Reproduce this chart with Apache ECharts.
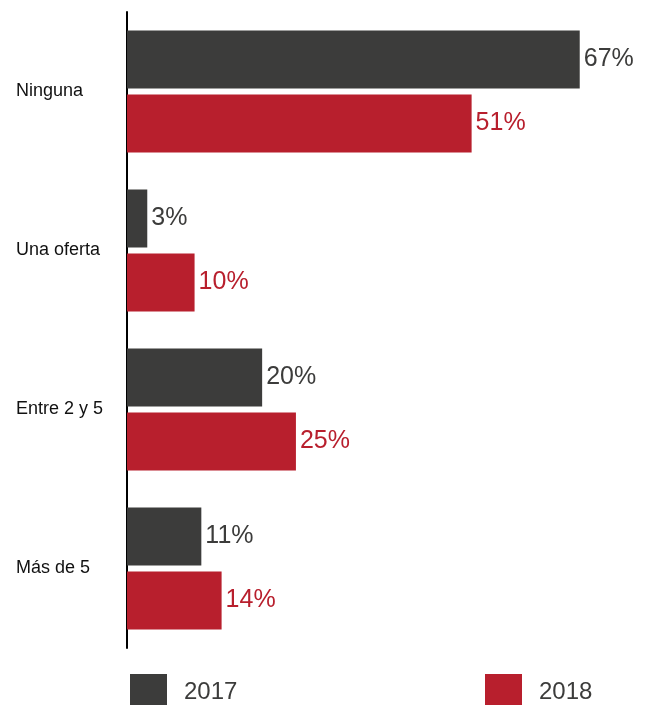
<!DOCTYPE html>
<html>
<head>
<meta charset="utf-8">
<script src="https://cdn.jsdelivr.net/npm/echarts@6/dist/echarts.min.js"></script>
<style>
  html, body { margin: 0; padding: 0; background: #fff; overflow: hidden; }
  #chart { width: 647px; height: 705px; }
</style>
</head>
<body>
<div id="chart"></div>
<script>
// Número de ofertas recibidas, comparación 2017 / 2018 (%)
const categories = ['Ninguna', 'Una oferta', 'Entre 2 y 5', 'Más de 5'];
const seriesNames = ['2017', '2018'];
const values2017 = [67, 3, 20, 11];
const values2018 = [51, 10, 25, 14];

const DARK = '#3c3c3b';
const RED = '#b81f2d';
const FONT = '"Liberation Sans", Arial, Helvetica, sans-serif';

const chart = echarts.init(document.getElementById('chart'), null, { renderer: 'canvas' });

function barSeries(name, data, color) {
  return {
    name: name,
    type: 'bar',
    data: data,
    barWidth: 58,
    barGap: '10%',
    itemStyle: { color: color },
    label: {
      show: true,
      position: 'right',
      distance: 4,
      formatter: '{c}%',
      color: color,
      fontFamily: FONT,
      fontSize: 25
    }
  };
}

const legendBase = {
  top: 674,
  padding: 0,
  itemWidth: 37,
  itemHeight: 37,
  icon: 'rect',
  selectedMode: false,
  textStyle: { fontFamily: FONT, fontSize: 24, color: DARK, padding: [0, 0, 0, 12] }
};

chart.setOption({
  animation: false,
  textStyle: { fontFamily: FONT },
  grid: { left: 127, top: 12, bottom: 57, right: 47, containLabel: false },
  legend: [
    Object.assign({}, legendBase, { data: [seriesNames[0]], left: 130 }),
    Object.assign({}, legendBase, { data: [seriesNames[1]], left: 485 })
  ],
  xAxis: {
    type: 'value',
    min: 0,
    max: 70,
    show: false,
    splitLine: { show: false }
  },
  yAxis: {
    type: 'category',
    data: categories,
    inverse: true,
    axisLine: { show: true, lineStyle: { color: '#000', width: 2 } },
    axisTick: { show: false },
    axisLabel: {
      align: 'left',
      margin: 111,
      fontSize: 18,
      color: '#111',
      fontFamily: FONT
    }
  },
  series: [
    barSeries(seriesNames[0], values2017, DARK),
    barSeries(seriesNames[1], values2018, RED)
  ]
});
</script>
</body>
</html>
